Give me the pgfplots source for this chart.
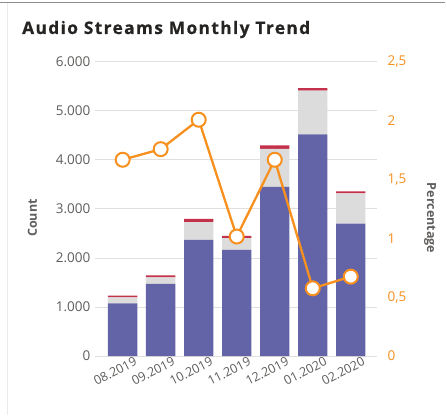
\documentclass[border=0pt]{standalone}
\usepackage{fontspec}
\setmainfont{Open Sans}
\usepackage{pgfplots}
\pgfplotsset{compat=1.18}
\definecolor{tblue}{HTML}{6264A7}
\definecolor{tgray}{HTML}{DCDCDC}
\definecolor{tred}{HTML}{C4314B}
\definecolor{torange}{HTML}{F7901E}
\definecolor{ttext}{HTML}{605E5C}
\definecolor{tgrid}{HTML}{E1DFDD}
\definecolor{ttitle}{HTML}{252423}
\begin{document}
\begin{tikzpicture}[x=1pt,y=1pt]
\useasboundingbox (0,0) rectangle (447,415);
\fill[white] (0,0) rectangle (447,415);
\draw[black!45, line width=1.6pt] (0,412.6) -- (445,412.6);
\draw[black!8, line width=1pt] (7,0) -- (7,411.5);
\node[anchor=base west, font=\bfseries\fontsize{17.3}{20}\selectfont\addfontfeatures{LetterSpace=8,FakeBold=0.6}, text=ttitle, inner sep=0] at (22,381) {Audio Streams Monthly Trend};
\begin{axis}[
  at={(95.3pt,59pt)}, anchor=south west,
  scale only axis, width=281.7pt, height=294.3pt,
  xmin=-0.72, xmax=6.69, ymin=0, ymax=6000,
  ybar stacked, bar width=29.4pt,
  axis line style={draw=none}, major tick length=0pt,
  ymajorgrids, grid style={tgrid, line width=0.8pt},
  xtick={0,...,6},
  xticklabels={08.2019,09.2019,10.2019,11.2019,12.2019,01.2020,02.2020},
  ytick={0,1000,2000,3000,4000,5000,6000},
  scaled y ticks=false,
  /pgf/number format/.cd, 1000 sep={.}, assume math mode=true, /pgfplots/.cd,
  yticklabel style={font=\fontsize{13.5}{16}\selectfont, text=ttext, xshift=-1.5pt},
  xticklabel style={font=\fontsize{12.5}{14}\selectfont, text=ttext, rotate=27, anchor=north east, xshift=13pt, yshift=-2pt},
  ylabel={Count},
  ylabel style={at={(rel axis cs:-0.223,0.469)}, anchor=center, font=\bfseries\fontsize{12.5}{15}\selectfont, text=ttext},
]
\addplot[fill=tblue, draw=none] coordinates {(0,1075) (1,1470) (2,2367) (3,2163) (4,3450) (5,4517) (6,2700)};
\addplot[fill=tgray, draw=none] coordinates {(0,122) (1,135) (2,361) (3,238) (4,775) (5,891) (6,613)};
\addplot[fill=tred, draw=none] coordinates {(0,34) (1,41) (2,68) (3,48) (4,68) (5,55) (6,41)};
\end{axis}
\begin{axis}[
  at={(95.3pt,59pt)}, anchor=south west,
  scale only axis, width=281.7pt, height=294.3pt,
  xmin=-0.72, xmax=6.69, ymin=0, ymax=2.5,
  axis y line*=right, axis x line=none,
  axis line style={draw=none}, major tick length=0pt,
  ytick={0,0.5,1,1.5,2,2.5},
  /pgf/number format/.cd, use comma, assume math mode=true, /pgfplots/.cd,
  yticklabel style={font=\fontsize{13.5}{16}\selectfont, text=torange, xshift=7pt},
  ylabel={Percentage},
  ylabel style={at={(rel axis cs:1.188,0.469)}, anchor=center, rotate=180, font=\bfseries\fontsize{12.5}{15}\selectfont, text=ttext},
  clip=false,
]
\addplot[torange, line width=2.3pt, mark=*, mark size=7pt, mark options={fill=white, draw=torange, line width=2pt}] coordinates {(0,1.667) (1,1.757) (2,2.007) (3,1.015) (4,1.667) (5,0.575) (6,0.674)};
\end{axis}
\end{tikzpicture}
\end{document}
